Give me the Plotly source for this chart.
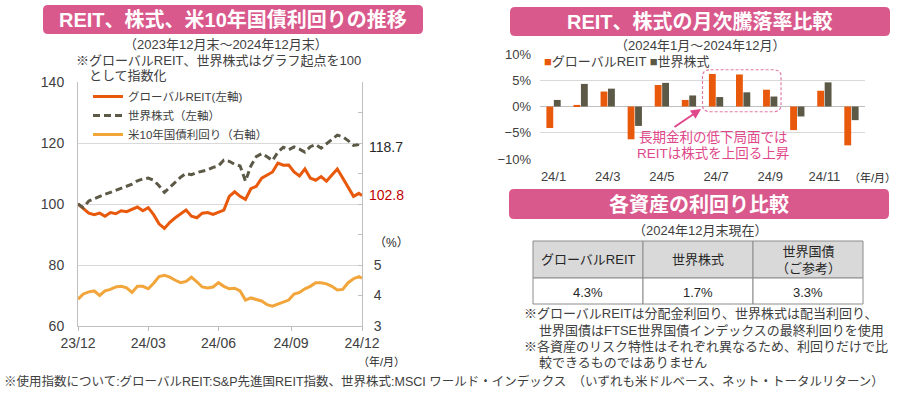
import plotly.graph_objects as go
import pandas as pd

# ---------------- data ----------------
dates = list(pd.date_range("2023-12-29", "2024-12-27", freq="W-FRI").strftime("%Y-%m-%d")) + ["2024-12-31"]

reit_idx = [100, 98.5, 97, 96.5, 97, 96, 97.2, 96.8, 97.8, 97.5, 98.2, 99, 97.8, 98.8, 96.5, 93.5,
            92, 94, 95.5, 96.8, 98, 96, 95.5, 97, 97.2, 96.6, 97.4, 98, 102.5, 104, 102.5, 101.5,
            105, 105.8, 108.5, 109.5, 110.5, 113.4, 112.7, 112.8, 110.5, 109.2, 111.5, 108.5, 107.8,
            109, 107.5, 109.5, 111.5, 108.5, 105.5, 102.5, 103.5, 102.8]
stock_idx = [100, 98.8, 101, 101.8, 102.5, 103.2, 103.8, 104.5, 105, 105.8, 106.5, 107.6, 108.2, 108.5,
             107.8, 106, 103.8, 105.5, 107.2, 108.8, 110, 109.6, 110.3, 110.8, 111.2, 112, 112.5, 114.4,
             114, 113, 112.5, 107.5, 112.5, 115.5, 116.5, 115.5, 114.2, 117, 118.6, 117.8, 118.7, 118,
             117, 118.8, 119.5, 118.3, 119.8, 121, 122.6, 122, 120.8, 119.2, 119.5, 118.7]
ust10y = [3.88, 4.05, 4.12, 4.15, 4.0, 4.15, 4.2, 4.28, 4.3, 4.25, 4.1, 4.3, 4.3, 4.22, 4.4, 4.62,
          4.66, 4.6, 4.5, 4.42, 4.46, 4.6, 4.45, 4.28, 4.25, 4.28, 4.42, 4.3, 4.22, 4.24, 4.15, 3.85,
          3.92, 3.86, 3.82, 3.7, 3.65, 3.72, 3.78, 3.85, 4.05, 4.1, 4.22, 4.3, 4.42, 4.42, 4.38, 4.3,
          4.18, 4.2, 4.42, 4.55, 4.62, 4.57]

line_tickvals = ["2023-12-29", "2024-03-29", "2024-06-28", "2024-09-30", "2024-12-31"]
line_ticktext = ["23/12", "24/03", "24/06", "24/09", "24/12"]

months = ["24/1", "24/2", "24/3", "24/4", "24/5", "24/6", "24/7", "24/8", "24/9", "24/10", "24/11", "24/12"]
reit_monthly = [-4.1, 0.3, 2.85, -6.25, 4.1, 1.25, 6.2, 6.1, 3.2, -4.5, 3.0, -7.4]
stock_monthly = [1.25, 4.3, 3.4, -3.7, 4.5, 2.1, 1.8, 2.7, 1.9, -1.9, 4.6, -2.6]

yield_assets = ["グローバルREIT", "世界株式", "世界国債<br>（ご参考）"]
yield_values = [4.3, 1.7, 3.3]

# ---------------- style ----------------
W, H = 900, 395
C_REIT = "#E8590C"
C_STOCK = "#5C5947"
C_UST = "#F2A53A"
C_PINK = "#D9598C"
C_ANN = "#E0478A"
C_GRID = "#D9D9D9"
C_AX = "#BFBFBF"
C_TXT = "#404040"
FONT = "Liberation Sans, Noto Sans CJK JP, sans-serif"


def px(x):
    return x / W


def py(y):
    return 1 - y / H


def rrect_paper(x0, y0, x1, y1, r):
    rx, ry = r, r
    return (f"M {px(x0+rx)},{py(y0)} L {px(x1-rx)},{py(y0)} Q {px(x1)},{py(y0)} {px(x1)},{py(y0+ry)} "
            f"L {px(x1)},{py(y1-ry)} Q {px(x1)},{py(y1)} {px(x1-rx)},{py(y1)} "
            f"L {px(x0+rx)},{py(y1)} Q {px(x0)},{py(y1)} {px(x0)},{py(y1-ry)} "
            f"L {px(x0)},{py(y0+ry)} Q {px(x0)},{py(y0)} {px(x0+rx)},{py(y0)} Z")


def rrect_data(x0, y0, x1, y1, rx, ry):
    return (f"M {x0+rx},{y1} L {x1-rx},{y1} Q {x1},{y1} {x1},{y1-ry} "
            f"L {x1},{y0+ry} Q {x1},{y0} {x1-rx},{y0} "
            f"L {x0+rx},{y0} Q {x0},{y0} {x0},{y0+ry} "
            f"L {x0},{y1-ry} Q {x0},{y1} {x0+rx},{y1} Z")


fig = go.Figure()

# ---------------- left line chart ----------------
fig.add_trace(go.Scatter(x=dates, y=reit_idx, mode="lines", name="グローバルREIT(左軸)",
                         line=dict(color=C_REIT, width=3), xaxis="x", yaxis="y"))
fig.add_trace(go.Scatter(x=dates, y=stock_idx, mode="lines", name="世界株式（左軸）",
                         line=dict(color=C_STOCK, width=3, dash="7px,4px"), xaxis="x", yaxis="y"))
fig.add_trace(go.Scatter(x=dates, y=ust10y, mode="lines", name="米10年国債利回り（右軸）",
                         line=dict(color=C_UST, width=3), xaxis="x", yaxis="y2"))

# ---------------- monthly bar chart ----------------
mnum = list(range(1, len(months) + 1))
fig.add_trace(go.Bar(x=mnum, y=reit_monthly, name="グローバルREIT", marker=dict(color=C_REIT, line=dict(width=0)),
                     xaxis="x3", yaxis="y3", showlegend=False))
fig.add_trace(go.Bar(x=mnum, y=stock_monthly, name="世界株式", marker=dict(color=C_STOCK, line=dict(width=0)),
                     xaxis="x3", yaxis="y3", showlegend=False))

shapes = []
ann = []


def T(text, x, y, size=13, color=C_TXT, xanchor="center", yanchor="middle", bold=False, **kw):
    ann.append(dict(text=text, x=px(x), y=py(y), xref="paper", yref="paper", showarrow=False,
                    xanchor=xanchor, yanchor=yanchor,
                    font=dict(size=size, color=color, family=FONT, weight="bold" if bold else "normal"), **kw))


# ---------------- yield table (cells laid out from the data lists) ----------------
TB_X0, TB_X1, TB_Y0, TB_YH, TB_Y1 = 533, 863, 241, 278, 304
ncol = len(yield_assets)
colw = (TB_X1 - TB_X0) / ncol
for i, (name, val) in enumerate(zip(yield_assets, yield_values)):
    cx0 = TB_X0 + i * colw
    cx1 = cx0 + colw
    shapes.append(dict(type="rect", xref="paper", yref="paper", x0=px(cx0), x1=px(cx1), y0=py(TB_YH), y1=py(TB_Y0),
                       fillcolor="#D9D9D9", line=dict(color="#8C8C8C", width=1)))
    shapes.append(dict(type="rect", xref="paper", yref="paper", x0=px(cx0), x1=px(cx1), y0=py(TB_Y1), y1=py(TB_YH),
                       fillcolor="white", line=dict(color="#8C8C8C", width=1)))
    T(name, (cx0 + cx1) / 2, (TB_Y0 + TB_YH) / 2, size=13, color="#262626")
    T(f"{val}%", (cx0 + cx1) / 2, (TB_YH + TB_Y1) / 2 + 1, size=13, color="#262626")

for (x0, y0, x1, y1) in [(43, 5, 423, 34), (510, 7, 890, 36), (509, 189, 889, 219)]:
    shapes.append(dict(type="path", xref="paper", yref="paper", path=rrect_paper(x0, y0, x1, y1, 5),
                       fillcolor=C_PINK, line=dict(width=0), layer="below"))
# dashed highlight box (Jul - Sep)
shapes.append(dict(type="path", xref="x3", yref="y3", path=rrect_data(6.5, -1.0, 9.4, 7.0, 0.3, 1.3),
                   line=dict(color="#E27AA6", width=1.2, dash="3px,2px"), fillcolor="rgba(0,0,0,0)"))

T("REIT、株式、米10年国債利回りの推移", 233, 20, size=20, color="white", bold=True)
T("REIT、株式の月次騰落率比較", 700, 22, size=20, color="white", bold=True)
T("各資産の利回り比較", 699, 204, size=20, color="white", bold=True)

T("（2023年12月末～2024年12月末）", 226, 45, size=13)
T("※グローバルREIT、世界株式はグラフ起点を100", 74, 60, size=13, xanchor="left")
T("として指数化", 87, 75, size=13, xanchor="left")
T("（%）", 391, 243, size=12, color="#262626")
T("（年/月）", 381, 361, size=11, color="#262626")

# end labels tied to data
ann.append(dict(text="118.7", x=dates[-1], y=stock_idx[-1], xref="x", yref="y", showarrow=False,
                xanchor="left", xshift=5, font=dict(size=14, color="#262626", family=FONT)))
ann.append(dict(text="102.8", x=dates[-1], y=reit_idx[-1], xref="x", yref="y", showarrow=False,
                xanchor="left", xshift=5, font=dict(size=14, color="#C00000", family=FONT)))

T("（2024年1月～2024年12月）", 700, 46, size=13)
T(f"<span style='color:{C_REIT}'>■</span>グローバルREIT <span style='color:{C_STOCK}'>■</span>世界株式",
  542, 62, size=13, xanchor="left")
T("長期金利の低下局面では", 713, 137, size=13.5, color=C_ANN)
T("REITは株式を上回る上昇", 713, 153, size=13.5, color=C_ANN)
ann.append(dict(text="", x=px(701), y=py(109), xref="paper", yref="paper", showarrow=True,
                ax=-28, ay=19, arrowhead=2, arrowsize=1, arrowwidth=2, arrowcolor=C_ANN))
T("（年/月）", 872, 178, size=11, color="#262626")

T("（2024年12月末現在）", 700, 230, size=13)
T("※グローバルREITは分配金利回り、世界株式は配当利回り、", 522, 313, size=13, xanchor="left")
T("世界国債はFTSE世界国債インデックスの最終利回りを使用", 537, 330, size=13, xanchor="left")
T("※各資産のリスク特性はそれぞれ異なるため、利回りだけで比", 522, 346, size=13, xanchor="left")
T("較できるものではありません", 537, 362, size=13, xanchor="left")

T("※使用指数について:グローバルREIT:S&P先進国REIT指数、世界株式:MSCI ワールド・インデックス　（いずれも米ドルベース、ネット・トータルリターン）",
  2, 381, size=12.5, xanchor="left")

fig.update_layout(
    width=W, height=H, margin=dict(l=0, r=0, t=0, b=0, autoexpand=False),
    paper_bgcolor="white", plot_bgcolor="white",
    font=dict(family=FONT, size=13, color=C_TXT),
    shapes=shapes, annotations=ann,
    barmode="group", bargap=0.45, bargroupgap=0.08,
    showlegend=True,
    legend=dict(x=px(88), y=py(82), xanchor="left", yanchor="top", bgcolor="rgba(0,0,0,0)",
                font=dict(size=11.5, color=C_TXT, family=FONT), tracegroupgap=0),
    xaxis=dict(domain=[px(78), px(362)], type="date", range=["2023-12-29", "2024-12-31"],
               tickvals=line_tickvals, ticktext=line_ticktext, ticks="outside", ticklen=4,
               tickcolor=C_AX, showline=True, linecolor=C_AX, showgrid=False, automargin=False,
               tickfont=dict(size=14, color=C_TXT), anchor="y"),
    yaxis=dict(domain=[py(326), py(82)], range=[60, 140], dtick=20, showgrid=True, gridcolor=C_GRID,
               showline=True, linecolor=C_AX, ticks="", zeroline=False, ticklabelstandoff=10, automargin=False,
               tickfont=dict(size=14, color=C_TXT), anchor="x"),
    yaxis2=dict(overlaying="y", side="right", range=[3, 11], tickvals=[3, 4, 5, 6, 7, 8, 9, 10, 11],
                ticktext=["3", "4", "5", "", "", "", "", "", ""], ticks="inside", ticklen=4,
                tickcolor=C_AX, showline=True, linecolor=C_AX, showgrid=False, zeroline=False, automargin=False,
                ticklabelstandoff=8, tickfont=dict(size=14, color=C_TXT), anchor="x"),
    xaxis3=dict(domain=[px(540), px(865)], range=[0.5, 12.5], tickvals=mnum[::2], ticktext=months[::2],
                ticks="", showline=False, showgrid=False, zeroline=False, ticklabelstandoff=8, automargin=False,
                tickfont=dict(size=13, color=C_TXT), anchor="y3"),
    yaxis3=dict(domain=[py(159), py(54)], range=[-10, 10], dtick=5, ticksuffix="%",
                showgrid=True, gridcolor=C_GRID, zeroline=True, zerolinecolor=C_AX, zerolinewidth=1,
                showline=False, ticks="", ticklabelstandoff=8, automargin=False,
                tickfont=dict(size=13, color=C_TXT), anchor="x3"),
)

fig.write_html("out.html", config={"displayModeBar": False},
               post_script="document.body.style.margin='0';document.body.style.overflow='hidden';")
